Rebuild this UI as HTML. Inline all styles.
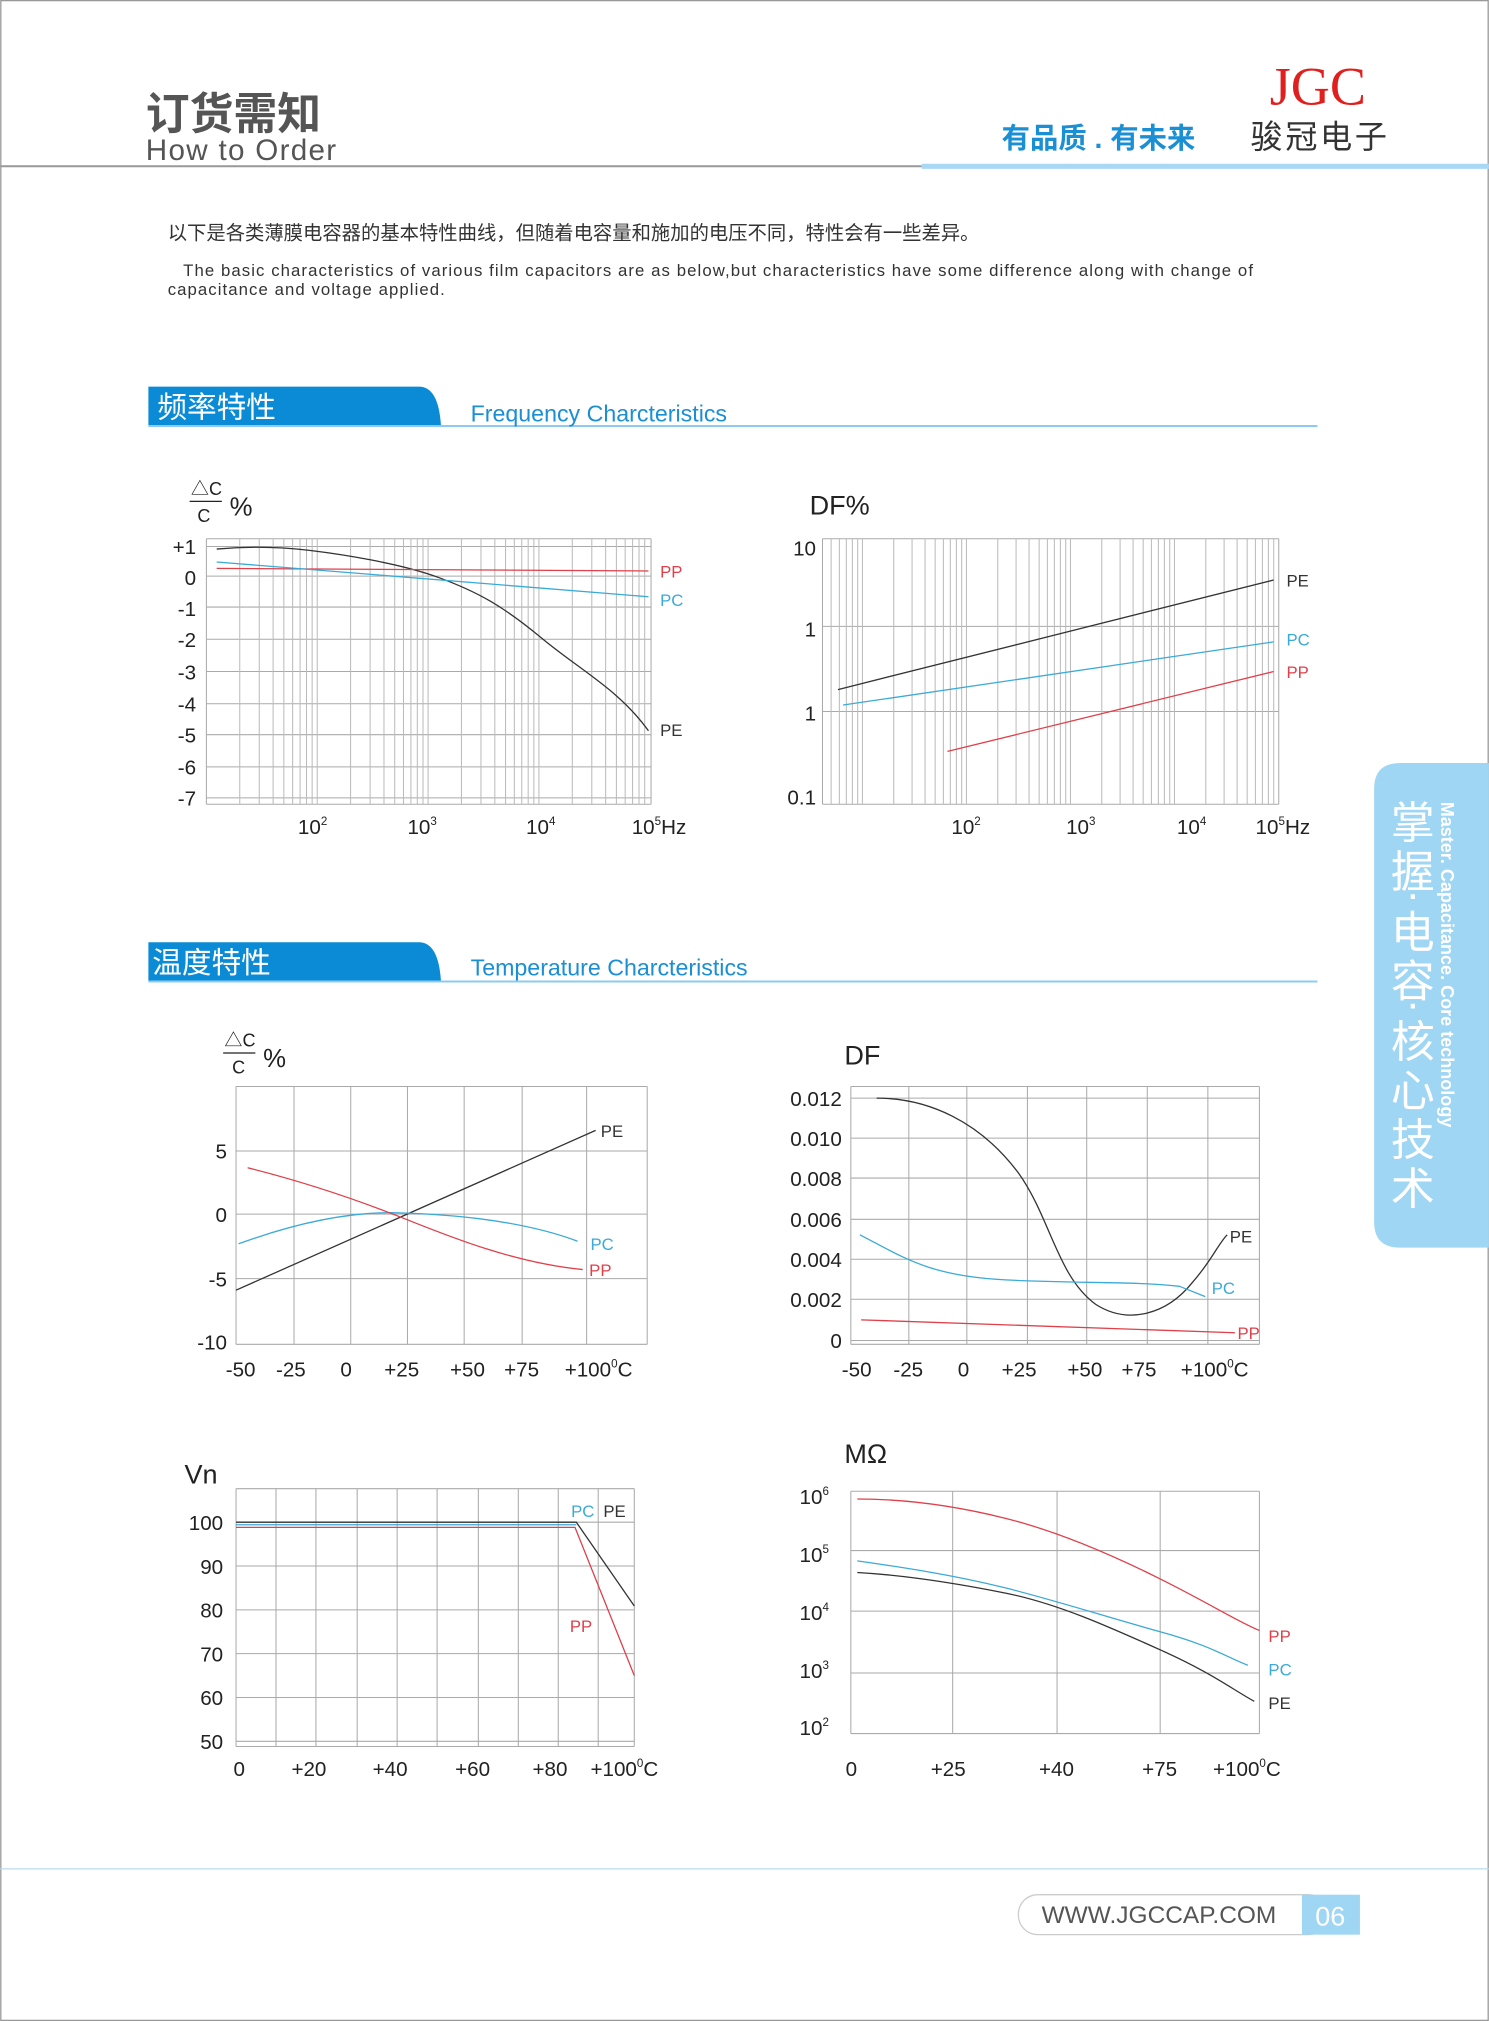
<!DOCTYPE html>
<html><head><meta charset="utf-8"><style>
html,body{margin:0;padding:0;background:#fff}
svg{display:block}
text{font-family:"Liberation Sans","Noto Sans CJK SC",sans-serif}
</style></head><body>
<svg id="s" width="1489" height="2021" viewBox="0 0 1155 1568" xmlns="http://www.w3.org/2000/svg">
<rect x="0.5" y="0.5" width="1154" height="1567" fill="#fff" stroke="#999" stroke-width="1"/>
<text x="113" y="100" font-size="34" font-weight="bold" fill="#555">订货需知</text>
<text x="113" y="124" font-size="23" fill="#555" letter-spacing="1">How to Order</text>
<text x="985" y="81" font-size="42" fill="#e0201e" style="font-family:'Liberation Serif',serif">JGC</text>
<text x="777" y="115" font-size="22" font-weight="bold" fill="#1b8fd3">有品质 . 有未来</text>
<text x="970" y="115" font-size="25" fill="#333" letter-spacing="2">骏冠电子</text>
<line x1="0" y1="129" x2="715" y2="129" stroke="#999" stroke-width="1.5"/>
<line x1="715" y1="129" x2="1155" y2="129" stroke="#a9d8f4" stroke-width="4"/>
<text x="130" y="186" font-size="15" fill="#333">以下是各类薄膜电容器的基本特性曲线，但随着电容量和施加的电压不同，特性会有一些差异。</text>
<text x="142" y="214" font-size="13" fill="#333" textLength="830" lengthAdjust="spacing">The basic characteristics of various film capacitors are as below,but characteristics  have some difference along with change of</text>
<text x="130" y="229" font-size="13" fill="#333" textLength="215" lengthAdjust="spacing">capacitance and voltage applied.</text>
<path d="M115 330 V300 H325 Q340 300 342 330 Z" fill="#0b8bd6"/>
<line x1="115" y1="330.5" x2="1022" y2="330.5" stroke="#8ccbef" stroke-width="1.5"/>
<text x="122" y="324" font-size="23" fill="#fff">频率特性</text>
<text x="365" y="327" font-size="18" fill="#1b8fd3">Frequency Charcteristics</text>
<path d="M115 761 V731 H325 Q340 731 342 761 Z" fill="#0b8bd6"/>
<line x1="115" y1="761.5" x2="1022" y2="761.5" stroke="#8ccbef" stroke-width="1.5"/>
<text x="118" y="755" font-size="23" fill="#fff">温度特性</text>
<text x="365" y="757" font-size="18" fill="#1b8fd3">Temperature Charcteristics</text>
<g id="grids" stroke="#aaa" stroke-width="0.8" fill="none"></g>
<g font-size="16" fill="#222">
<text x="148" y="384" font-size="14">△C</text><line x1="147" y1="389" x2="172" y2="389" stroke="#222"/><text x="153" y="405" font-size="14">C</text><text x="178" y="400" font-size="20">%</text>
<g text-anchor="end"><text x="152" y="430">+1</text><text x="152" y="454">0</text><text x="152" y="478">-1</text><text x="152" y="502">-2</text><text x="152" y="527">-3</text><text x="152" y="552">-4</text><text x="152" y="576">-5</text><text x="152" y="601">-6</text><text x="152" y="625">-7</text></g>
<text x="231" y="647">10<tspan font-size="9" dy="-7">2</tspan></text>
<text x="316" y="647">10<tspan font-size="9" dy="-7">3</tspan></text>
<text x="408" y="647">10<tspan font-size="9" dy="-7">4</tspan></text>
<text x="490" y="647">10<tspan font-size="9" dy="-7">5</tspan><tspan dy="7">Hz</tspan></text>
<text x="628" y="399" font-size="21">DF%</text>
<g text-anchor="end"><text x="633" y="431">10</text><text x="633" y="494">1</text><text x="633" y="559">1</text><text x="633" y="624">0.1</text></g>
<text x="738" y="647">10<tspan font-size="9" dy="-7">2</tspan></text>
<text x="827" y="647">10<tspan font-size="9" dy="-7">3</tspan></text>
<text x="913" y="647">10<tspan font-size="9" dy="-7">4</tspan></text>
<text x="974" y="647">10<tspan font-size="9" dy="-7">5</tspan><tspan dy="7">Hz</tspan></text>
<text x="174" y="812" font-size="14">△C</text><line x1="173" y1="817" x2="198" y2="817" stroke="#222"/><text x="180" y="833" font-size="14">C</text><text x="204" y="828" font-size="20">%</text>
<g text-anchor="end"><text x="176" y="899">5</text><text x="176" y="948">0</text><text x="176" y="998">-5</text><text x="176" y="1047">-10</text></g>
<text x="175" y="1068">-50</text><text x="214" y="1068">-25</text><text x="264" y="1068">0</text><text x="298" y="1068">+25</text><text x="349" y="1068">+50</text><text x="391" y="1068">+75</text><text x="438" y="1068">+100<tspan font-size="9" dy="-7">0</tspan><tspan dy="7">C</tspan></text>
<text x="655" y="826" font-size="21">DF</text>
<g text-anchor="end"><text x="653" y="858">0.012</text><text x="653" y="889">0.010</text><text x="653" y="920">0.008</text><text x="653" y="952">0.006</text><text x="653" y="983">0.004</text><text x="653" y="1014">0.002</text><text x="653" y="1046">0</text></g>
<text x="653" y="1068">-50</text><text x="693" y="1068">-25</text><text x="743" y="1068">0</text><text x="777" y="1068">+25</text><text x="828" y="1068">+50</text><text x="870" y="1068">+75</text><text x="916" y="1068">+100<tspan font-size="9" dy="-7">0</tspan><tspan dy="7">C</tspan></text>
<text x="143" y="1151" font-size="21">Vn</text>
<g text-anchor="end"><text x="173" y="1187">100</text><text x="173" y="1221">90</text><text x="173" y="1255">80</text><text x="173" y="1289">70</text><text x="173" y="1323">60</text><text x="173" y="1357">50</text></g>
<text x="181" y="1378">0</text><text x="226" y="1378">+20</text><text x="289" y="1378">+40</text><text x="353" y="1378">+60</text><text x="413" y="1378">+80</text><text x="458" y="1378">+100<tspan font-size="9" dy="-7">0</tspan><tspan dy="7">C</tspan></text>
<text x="655" y="1135" font-size="21">MΩ</text>
<g text-anchor="end"><text x="643" y="1167">10<tspan font-size="9" dy="-7">6</tspan></text><text x="643" y="1212">10<tspan font-size="9" dy="-7">5</tspan></text><text x="643" y="1257">10<tspan font-size="9" dy="-7">4</tspan></text><text x="643" y="1302">10<tspan font-size="9" dy="-7">3</tspan></text><text x="643" y="1346">10<tspan font-size="9" dy="-7">2</tspan></text></g>
<text x="656" y="1378">0</text><text x="722" y="1378">+25</text><text x="806" y="1378">+40</text><text x="886" y="1378">+75</text><text x="941" y="1378">+100<tspan font-size="9" dy="-7">0</tspan><tspan dy="7">C</tspan></text>
</g>
<g fill="none" stroke-width="1">
<path d="M168 426 C190 424 215 424 240 427 S310 437 340 448 S390 470 420 495 S480 535 503 567" stroke="#333"/>
<line x1="168" y1="441" x2="503" y2="443" stroke="#e0404a"/>
<line x1="168" y1="436" x2="503" y2="463" stroke="#3aaad8"/>
<line x1="650" y1="535" x2="988" y2="450" stroke="#333"/>
<line x1="654" y1="547" x2="988" y2="498" stroke="#3aaad8"/>
<line x1="735" y1="583" x2="988" y2="521" stroke="#e0404a"/>
<line x1="183" y1="1001" x2="462" y2="877" stroke="#333"/>
<path d="M185 965 C240 945 280 940 310 941 S400 945 448 963" stroke="#3aaad8"/>
<path d="M192 906 C240 918 280 932 315 946 S400 980 452 985" stroke="#e0404a"/>
<path d="M680 852 C720 852 760 870 790 910 C815 945 820 990 850 1012 C875 1028 905 1020 925 995 C940 978 945 965 952 958" stroke="#333"/>
<path d="M667 958 C700 975 720 990 780 993 S880 994 915 998 L935 1006" stroke="#3aaad8"/>
<line x1="668" y1="1024" x2="958" y2="1034" stroke="#e0404a"/>
<polyline points="183,1181 447,1181 492,1246" stroke="#333"/>
<polyline points="183,1183 447,1183" stroke="#3aaad8"/>
<polyline points="183,1185 446,1185 492,1300" stroke="#e0404a"/>
<path d="M665 1163 C700 1163 740 1168 780 1178 S860 1205 900 1225 S960 1258 977 1265" stroke="#e0404a"/>
<path d="M665 1211 C700 1216 740 1222 780 1232 S860 1255 900 1266 S950 1285 968 1292" stroke="#3aaad8"/>
<path d="M665 1220 C700 1222 740 1228 780 1236 S860 1262 900 1280 S955 1310 973 1320" stroke="#333"/>
</g>
<g font-size="13">
<text x="512" y="448" fill="#e0404a">PP</text><text x="512" y="470" fill="#3aaad8">PC</text><text x="512" y="571" fill="#333">PE</text>
<text x="998" y="455" fill="#333">PE</text><text x="998" y="501" fill="#3aaad8">PC</text><text x="998" y="526" fill="#e0404a">PP</text>
<text x="466" y="882" fill="#333">PE</text><text x="458" y="970" fill="#3aaad8">PC</text><text x="457" y="990" fill="#e0404a">PP</text>
<text x="954" y="964" fill="#333">PE</text><text x="940" y="1004" fill="#3aaad8">PC</text><text x="960" y="1039" fill="#e0404a">PP</text>
<text x="443" y="1177" fill="#3aaad8">PC</text><text x="468" y="1177" fill="#333">PE</text><text x="442" y="1266" fill="#e0404a">PP</text>
<text x="984" y="1274" fill="#e0404a">PP</text><text x="984" y="1300" fill="#3aaad8">PC</text><text x="984" y="1326" fill="#333">PE</text>
</g>
<path d="M1155 592 H1086 Q1066 592 1066 612 V948 Q1066 968 1086 968 H1155 Z" fill="#9fd6f4"/>
<g font-size="34" fill="#fff" text-anchor="middle">
<text x="1096" y="650">掌</text><text x="1096" y="688">握</text><text x="1096" y="705">·</text><text x="1096" y="735">电</text><text x="1096" y="773">容</text><text x="1096" y="790">·</text><text x="1096" y="820">核</text><text x="1096" y="858">心</text><text x="1096" y="896">技</text><text x="1096" y="934">术</text>
</g>
<text transform="translate(1118 622) rotate(90)" font-size="14" font-weight="bold" fill="#fff">Master. Capacitance. Core technology</text>
<line x1="0" y1="1450" x2="1155" y2="1450" stroke="#b9dcee" stroke-width="1"/>
<rect x="790" y="1470" width="240" height="31" rx="15" fill="#fff" stroke="#ccc"/>
<text x="808" y="1492" font-size="19" fill="#555">WWW.JGCCAP.COM</text>
<rect x="1010" y="1470" width="45" height="31" fill="#9fd6f4"/>
<text x="1032" y="1494" font-size="21" fill="#fff" text-anchor="middle">06</text>
</svg>
<script>
var g=document.getElementById('grids'),ns='http://www.w3.org/2000/svg';
function L(x1,y1,x2,y2,c){var l=document.createElementNS(ns,'line');l.setAttribute('x1',x1);l.setAttribute('y1',y1);l.setAttribute('x2',x2);l.setAttribute('y2',y2);if(c)l.setAttribute('stroke',c);g.appendChild(l);}
function R(x1,y1,x2,y2){L(x1,y1,x2,y1);L(x1,y2,x2,y2);L(x1,y1,x1,y2);L(x2,y1,x2,y2);}
R(160,418,505,624);
[424,447,471,496,521,546,570,595,619].forEach(function(y){L(160,y,505,y);});
for(var d=1;d<5;d++)for(var m=1;m<10;m++){var x=160+86*(d-1+Math.log10(m));if(x>160&&x<505)L(x,418,x,624,'#bbb');}
R(638,418,992,624);
[486,552].forEach(function(y){L(638,y,992,y);});
for(var d=0;d<5;d++)for(var m=1;m<10;m++){var x=669+80.7*(d-1+Math.log10(m));if(x>638&&x<992)L(x,418,x,624,'#bbb');}
R(183,843,502,1043);
[893,942,992].forEach(function(y){L(183,y,502,y);});
[228,272,316,360,405,455].forEach(function(x){L(x,843,x,1043);});
R(660,843,977,1043);
[852,883,914,946,977,1008,1040].forEach(function(y){L(660,y,977,y);});
[705,750,797,843,890,937].forEach(function(x){L(x,843,x,1043);});
R(183,1155,492,1355);
[1181,1215,1249,1283,1317,1351].forEach(function(y){L(183,y,492,y);});
[214,245,277,308,339,371,402,433,464].forEach(function(x){L(x,1155,x,1355);});
R(660,1157,977,1345);
[1203,1250,1298].forEach(function(y){L(660,y,977,y);});
[739,820,900].forEach(function(x){L(x,1157,x,1345);});
</script>
</body></html>
